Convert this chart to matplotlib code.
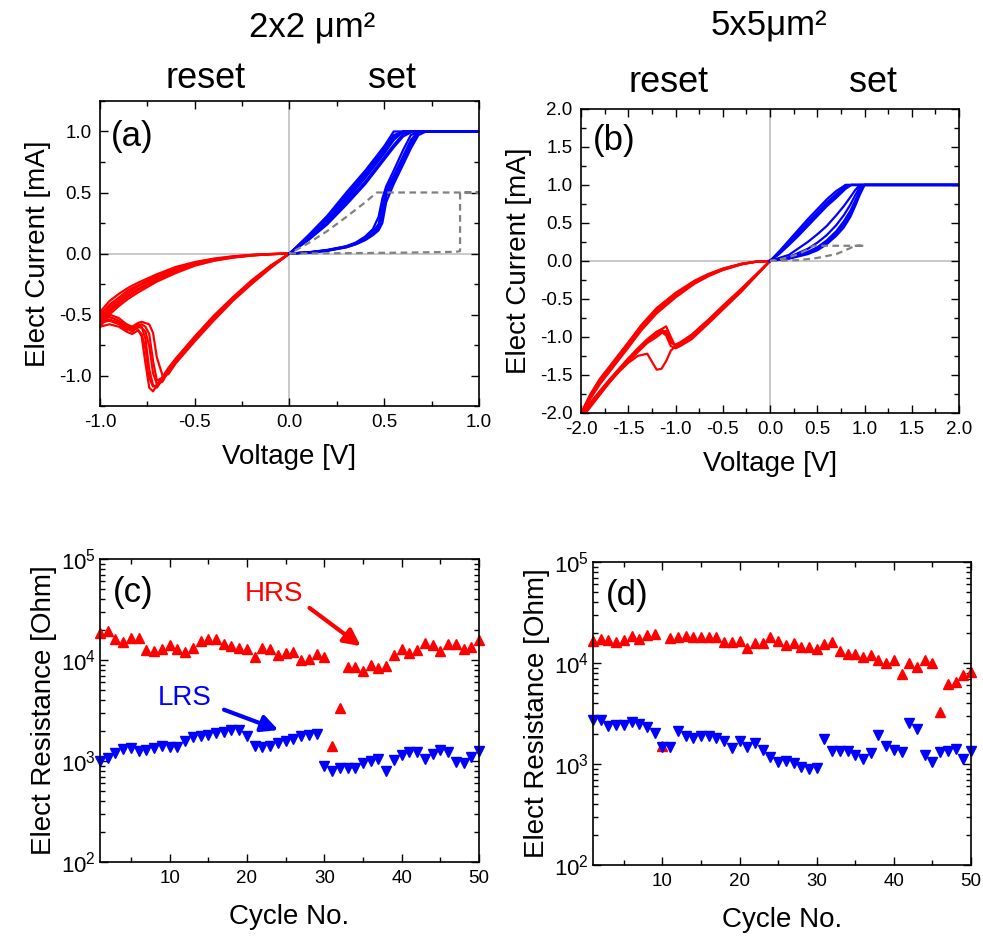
import matplotlib
matplotlib.use("Agg")
import matplotlib.pyplot as plt
from matplotlib.ticker import MultipleLocator, FormatStrFormatter, LogLocator, LogFormatterMathtext, NullFormatter

plt.rcParams['font.family'] = ['Liberation Sans', 'DejaVu Sans']
plt.rcParams['mathtext.fontset'] = 'custom'
plt.rcParams['mathtext.rm'] = 'Liberation Sans'
plt.rcParams['mathtext.it'] = 'Liberation Sans:italic'
plt.rcParams['axes.unicode_minus'] = False

# ---------------- (a) 2x2 um2 I-V ----------------
# reset sweep 0 -> -1 V (one list of currents per cycle)
a_reset_fwd_v = [0, -0.1, -0.2, -0.3, -0.4, -0.5, -0.6, -0.64, -0.67, -0.70, -0.72,
                 -0.74, -0.76, -0.78, -0.80, -0.83, -0.86, -0.90, -0.95, -1.0]
a_reset_fwd_i = [
    [0, -0.11, -0.24, -0.38, -0.53, -0.70, -0.88, -0.96, -1.03, -1.10, -1.08, -0.95, -0.70, -0.60, -0.58, -0.62, -0.58, -0.56, -0.55, -0.55],
    [0, -0.11, -0.23, -0.37, -0.52, -0.69, -0.87, -0.95, -1.02, -1.04, -0.88, -0.66, -0.60, -0.58, -0.59, -0.63, -0.60, -0.55, -0.52, -0.50],
    [0, -0.10, -0.22, -0.36, -0.51, -0.68, -0.86, -0.94, -1.01, -1.08, -1.13, -1.10, -0.90, -0.68, -0.62, -0.60, -0.63, -0.58, -0.55, -0.57],
    [0, -0.12, -0.25, -0.39, -0.55, -0.72, -0.90, -0.99, -1.00, -0.85, -0.65, -0.58, -0.57, -0.56, -0.57, -0.60, -0.58, -0.53, -0.50, -0.48],
    [0, -0.10, -0.23, -0.37, -0.52, -0.69, -0.87, -0.95, -1.02, -1.08, -1.09, -1.02, -0.78, -0.66, -0.63, -0.66, -0.64, -0.60, -0.58, -0.60],
    [0, -0.11, -0.24, -0.38, -0.53, -0.70, -0.88, -0.97, -1.05, -1.07, -0.98, -0.76, -0.64, -0.61, -0.60, -0.64, -0.61, -0.57, -0.54, -0.53],
]
# reset return -1 -> 0 V
a_reset_ret_v = [-1.0, -0.95, -0.9, -0.85, -0.8, -0.7, -0.6, -0.5, -0.4, -0.3, -0.2, -0.1, 0]
a_reset_ret_i = [
    [-0.55, -0.46, -0.40, -0.34, -0.29, -0.21, -0.14, -0.09, -0.055, -0.03, -0.015, -0.005, 0],
    [-0.50, -0.42, -0.36, -0.30, -0.26, -0.18, -0.12, -0.075, -0.045, -0.025, -0.012, -0.004, 0],
    [-0.57, -0.48, -0.41, -0.35, -0.30, -0.22, -0.15, -0.095, -0.058, -0.032, -0.016, -0.006, 0],
    [-0.48, -0.39, -0.33, -0.28, -0.24, -0.17, -0.11, -0.07, -0.042, -0.023, -0.011, -0.004, 0],
    [-0.60, -0.50, -0.43, -0.37, -0.32, -0.23, -0.16, -0.10, -0.06, -0.034, -0.017, -0.006, 0],
    [-0.53, -0.44, -0.38, -0.32, -0.27, -0.195, -0.13, -0.082, -0.05, -0.028, -0.013, -0.005, 0],
]
# set sweep 0 -> 1 V (compliance 1 mA)
a_set_fwd_v = [0, 0.1, 0.2, 0.3, 0.35, 0.4, 0.44, 0.47, 0.49, 0.51, 0.55, 0.6, 0.64, 0.68, 0.72, 1.0]
a_set_fwd_i = [
    [0, 0.008, 0.025, 0.055, 0.08, 0.12, 0.17, 0.22, 0.35, 0.50, 0.62, 0.78, 0.92, 1.0, 1.0, 1.0],
    [0, 0.010, 0.030, 0.060, 0.09, 0.14, 0.20, 0.30, 0.45, 0.55, 0.68, 0.85, 0.97, 1.0, 1.0, 1.0],
    [0, 0.007, 0.022, 0.050, 0.075, 0.11, 0.15, 0.19, 0.25, 0.42, 0.57, 0.73, 0.86, 0.97, 1.0, 1.0],
    [0, 0.009, 0.027, 0.058, 0.085, 0.13, 0.18, 0.24, 0.38, 0.52, 0.64, 0.80, 0.93, 1.0, 1.0, 1.0],
    [0, 0.008, 0.024, 0.053, 0.078, 0.115, 0.16, 0.21, 0.30, 0.47, 0.60, 0.76, 0.89, 0.99, 1.0, 1.0],
    [0, 0.009, 0.026, 0.056, 0.082, 0.125, 0.175, 0.23, 0.33, 0.49, 0.61, 0.77, 0.90, 1.0, 1.0, 1.0],
]
a_set_ret_v = [1.0, 0.65, 0.6, 0.55, 0.5, 0.45, 0.4, 0.3, 0.2, 0.1, 0]
a_set_ret_i = [
    [1.0, 1.0, 1.0, 0.93, 0.82, 0.72, 0.62, 0.44, 0.27, 0.125, 0],
    [1.0, 1.0, 1.0, 1.0, 0.88, 0.78, 0.68, 0.50, 0.31, 0.15, 0],
    [1.0, 1.0, 0.96, 0.87, 0.77, 0.67, 0.57, 0.40, 0.24, 0.11, 0],
    [1.0, 1.0, 1.0, 0.95, 0.84, 0.74, 0.64, 0.46, 0.28, 0.13, 0],
    [1.0, 1.0, 0.98, 0.89, 0.79, 0.69, 0.59, 0.42, 0.25, 0.115, 0],
    [1.0, 1.0, 1.0, 0.97, 0.86, 0.76, 0.66, 0.48, 0.30, 0.14, 0],
]
# forming sweep (grey dashed), compliance 0.5 mA
a_form_v = [0, 0.3, 0.6, 0.88, 0.9, 0.9, 1.0, 0.46, 0.4, 0.3, 0.2, 0.1, 0]
a_form_i = [0, 0.003, 0.007, 0.014, 0.02, 0.5, 0.5, 0.5, 0.42, 0.30, 0.185, 0.085, 0]

# ---------------- (b) 5x5 um2 I-V ----------------
b_reset_fwd_v = [0, -0.3, -0.5, -0.65, -0.83, -0.95, -1.0, -1.05, -1.1, -1.15, -1.2,
                 -1.3, -1.4, -1.5, -1.6, -1.7, -1.8, -1.9, -2.0]
b_reset_fwd_i = [
    [0, -0.38, -0.62, -0.80, -1.00, -1.10, -1.12, -1.05, -0.92, -0.95, -1.00, -1.08, -1.20, -1.33, -1.45, -1.60, -1.75, -1.90, -2.05],
    [0, -0.40, -0.64, -0.82, -1.03, -1.12, -1.15, -1.12, -0.98, -0.93, -0.97, -1.06, -1.18, -1.31, -1.44, -1.58, -1.73, -1.88, -2.03],
    [0, -0.37, -0.60, -0.78, -0.98, -1.08, -1.12, -1.18, -1.32, -1.42, -1.43, -1.22, -1.25, -1.34, -1.46, -1.60, -1.76, -1.92, -2.08],
    [0, -0.39, -0.63, -0.81, -1.01, -1.11, -1.13, -1.00, -0.86, -0.90, -0.96, -1.05, -1.17, -1.30, -1.43, -1.57, -1.72, -1.87, -2.02],
    [0, -0.36, -0.59, -0.77, -0.97, -1.07, -1.10, -1.08, -0.95, -0.90, -0.93, -1.03, -1.15, -1.28, -1.42, -1.56, -1.71, -1.86, -2.00],
]
b_reset_ret_v = [-2.0, -1.9, -1.8, -1.7, -1.6, -1.5, -1.36, -1.2, -1.0, -0.8, -0.65, -0.5, -0.3, -0.15, 0]
b_reset_ret_i = [
    [-2.02, -1.78, -1.58, -1.42, -1.26, -1.10, -0.87, -0.65, -0.45, -0.28, -0.18, -0.11, -0.04, -0.010, 0],
    [-2.04, -1.81, -1.62, -1.46, -1.30, -1.14, -0.91, -0.69, -0.48, -0.30, -0.20, -0.12, -0.045, -0.012, 0],
    [-2.00, -1.75, -1.55, -1.39, -1.23, -1.07, -0.84, -0.62, -0.42, -0.26, -0.17, -0.10, -0.035, -0.009, 0],
    [-2.03, -1.79, -1.60, -1.44, -1.28, -1.12, -0.89, -0.67, -0.46, -0.29, -0.19, -0.115, -0.042, -0.011, 0],
    [-2.01, -1.76, -1.56, -1.40, -1.24, -1.08, -0.85, -0.63, -0.43, -0.27, -0.175, -0.105, -0.038, -0.010, 0],
]
b_set_fwd_v = [0, 0.2, 0.4, 0.5, 0.6, 0.7, 0.78, 0.85, 0.9, 0.95, 1.0, 1.05, 2.0]
b_set_fwd_i = [
    [0, 0.03, 0.09, 0.14, 0.22, 0.33, 0.44, 0.58, 0.72, 0.87, 1.0, 1.0, 1.0],
    [0, 0.04, 0.12, 0.18, 0.27, 0.39, 0.52, 0.66, 0.79, 0.93, 1.0, 1.0, 1.0],
    [0, 0.08, 0.25, 0.35, 0.46, 0.60, 0.72, 0.84, 0.93, 1.0, 1.0, 1.0, 1.0],
    [0, 0.05, 0.16, 0.24, 0.34, 0.47, 0.60, 0.74, 0.86, 0.97, 1.0, 1.0, 1.0],
    [0, 0.035, 0.10, 0.16, 0.24, 0.36, 0.48, 0.62, 0.76, 0.90, 1.0, 1.0, 1.0],
]
b_set_ret_v = [2.0, 0.86, 0.8, 0.7, 0.6, 0.5, 0.4, 0.3, 0.2, 0.1, 0]
b_set_ret_i = [
    [1.0, 1.0, 1.0, 0.88, 0.77, 0.64, 0.51, 0.38, 0.24, 0.11, 0],
    [1.0, 1.0, 0.97, 0.85, 0.74, 0.61, 0.48, 0.35, 0.22, 0.10, 0],
    [1.0, 1.0, 1.0, 0.92, 0.81, 0.68, 0.55, 0.41, 0.27, 0.13, 0],
    [1.0, 1.0, 0.99, 0.87, 0.75, 0.62, 0.50, 0.37, 0.23, 0.105, 0],
    [1.0, 1.0, 0.95, 0.83, 0.72, 0.59, 0.46, 0.33, 0.21, 0.095, 0],
]
b_form_v = [0, 0.3, 0.5, 0.7, 0.85, 0.9, 1.0, 0.46, 0.39, 0.3, 0.2, 0.1, 0]
b_form_i = [0, 0.01, 0.04, 0.09, 0.17, 0.2, 0.2, 0.2, 0.145, 0.09, 0.05, 0.02, 0]

# ---------------- (c), (d) endurance ----------------
cycles = list(range(1, 51))
c_hrs = [18500, 19400, 16000, 15150, 16600, 16500, 12500, 12300, 12800, 14000,
         12800, 11900, 13200, 15500, 16300, 16000, 14500, 13600, 13000, 12800,
         10800, 13100, 12800, 11300, 11800, 11950, 9950, 10200, 11400, 10800,
         1420, 3360, 8430, 8550, 7770, 9000, 8300, 8680, 11250, 12800,
         11600, 12500, 14600, 14000, 12300, 14400, 14300, 12700, 13400, 15600]
c_lrs = [990, 1080, 1190, 1320, 1350, 1250, 1280, 1350, 1420, 1370,
         1370, 1590, 1710, 1780, 1810, 1910, 1940, 2020, 2040, 1770,
         1400, 1370, 1410, 1490, 1590, 1640, 1750, 1810, 1870, 895,
         800, 860, 850, 850, 950, 990, 1045, 790, 1015, 1140,
         1230, 1230, 1040, 1160, 1270, 1220, 980, 960, 1090, 1250]
d_hrs = [16400, 17300, 16900, 16150, 17000, 18500, 17300, 18900, 19400, 1500,
         17500, 18000, 18400, 18000, 18000, 18000, 18000, 16300, 16300, 16500,
         14000, 15800, 15600, 18200, 16500, 15100, 15600, 14300, 14300, 13900,
         15300, 16150, 13100, 12300, 12300, 11470, 12000, 10800, 9900, 10700,
         7840, 9900, 9100, 10700, 9900, 3250, 6200, 6430, 7600, 8080]
d_lrs = [2730, 2730, 2400, 2450, 2450, 2600, 2490, 2310, 2040, 1470,
         1460, 2100, 1890, 1810, 1890, 1890, 1810, 1700, 1430, 1680,
         1480, 1600, 1380, 1180, 1040, 1080, 1015, 940, 890, 910,
         1760, 1355, 1355, 1355, 1240, 1130, 1275, 1940, 1510, 1375,
         1300, 2530, 2200, 1230, 1055, 1300, 1355, 1400, 1130, 1355]

RED = '#ff0000'
BLUE = '#0000ff'
GREY = '#c0c0c0'

fig = plt.figure(figsize=(9.83, 9.36), dpi=100)
ax_a = fig.add_axes([0.1017, 0.5662, 0.3856, 0.3259])
ax_b = fig.add_axes([0.5911, 0.5588, 0.3845, 0.3248])
ax_c = fig.add_axes([0.1017, 0.0791, 0.3856, 0.3237])
ax_d = fig.add_axes([0.6033, 0.0759, 0.3845, 0.3237])


def style_axis(ax):
    ax.tick_params(which='both', direction='in', top=True, right=True,
                   labelsize=13.5, width=1.0, pad=6)
    ax.tick_params(which='major', length=6)
    ax.tick_params(which='minor', length=3.5)
    for sp in ax.spines.values():
        sp.set_linewidth(1.2)


def draw_iv(ax, fwd_v, fwd_i, ret_v, ret_i, color):
    for cyc in fwd_i:
        ax.plot(fwd_v, cyc, color=color, lw=1.6)
    for cyc in ret_i:
        ax.plot(ret_v, cyc, color=color, lw=1.6)


# panel (a)
ax_a.axhline(0, color=GREY, lw=1.2, zorder=0)
ax_a.axvline(0, color=GREY, lw=1.2, zorder=0)
draw_iv(ax_a, a_reset_fwd_v, a_reset_fwd_i, a_reset_ret_v, a_reset_ret_i, RED)
draw_iv(ax_a, a_set_fwd_v, a_set_fwd_i, a_set_ret_v, a_set_ret_i, BLUE)
ax_a.plot(a_form_v, a_form_i, color='grey', lw=1.6, ls=(0, (3, 2)))
ax_a.set_xlim(-1.0, 1.0)
ax_a.set_ylim(-1.25, 1.25)
ax_a.xaxis.set_major_locator(MultipleLocator(0.5))
ax_a.xaxis.set_minor_locator(MultipleLocator(0.25))
ax_a.yaxis.set_major_locator(MultipleLocator(0.5))
ax_a.yaxis.set_minor_locator(MultipleLocator(0.25))
ax_a.xaxis.set_major_formatter(FormatStrFormatter('%.1f'))
ax_a.yaxis.set_major_formatter(FormatStrFormatter('%.1f'))
ax_a.set_xlabel('Voltage [V]', fontsize=20, labelpad=9)
ax_a.set_ylabel('Elect Current [mA]', fontsize=20, labelpad=6)
ax_a.text(0.03, 0.885, '(a)', transform=ax_a.transAxes, fontsize=25, va='center')
style_axis(ax_a)

# panel (b)
ax_b.axhline(0, color=GREY, lw=1.2, zorder=0)
ax_b.axvline(0, color=GREY, lw=1.2, zorder=0)
draw_iv(ax_b, b_reset_fwd_v, b_reset_fwd_i, b_reset_ret_v, b_reset_ret_i, RED)
draw_iv(ax_b, b_set_fwd_v, b_set_fwd_i, b_set_ret_v, b_set_ret_i, BLUE)
ax_b.plot(b_form_v, b_form_i, color='grey', lw=1.6, ls=(0, (3, 2)))
ax_b.set_xlim(-2.0, 2.0)
ax_b.set_ylim(-2.0, 2.0)
ax_b.xaxis.set_major_locator(MultipleLocator(0.5))
ax_b.xaxis.set_minor_locator(MultipleLocator(0.25))
ax_b.yaxis.set_major_locator(MultipleLocator(0.5))
ax_b.yaxis.set_minor_locator(MultipleLocator(0.25))
ax_b.xaxis.set_major_formatter(FormatStrFormatter('%.1f'))
ax_b.yaxis.set_major_formatter(FormatStrFormatter('%.1f'))
ax_b.set_xlabel('Voltage [V]', fontsize=20, labelpad=9)
ax_b.set_ylabel('Elect Current [mA]', fontsize=20, labelpad=6)
ax_b.text(0.03, 0.895, '(b)', transform=ax_b.transAxes, fontsize=25, va='center')
style_axis(ax_b)


def endurance(ax, hrs, lrs, label):
    ax.semilogy(cycles, hrs, ls='none', marker='^', ms=6.5, color=RED, mec=RED, clip_on=False)
    ax.semilogy(cycles, lrs, ls='none', marker='v', ms=6.5, color=BLUE, mec=BLUE, clip_on=False)
    ax.set_xlim(1, 50)
    ax.set_ylim(1e2, 1e5)
    ax.xaxis.set_major_locator(MultipleLocator(10))
    ax.xaxis.set_minor_locator(MultipleLocator(5))
    ax.yaxis.set_major_locator(LogLocator(base=10))
    ax.yaxis.set_major_formatter(LogFormatterMathtext())
    ax.yaxis.set_minor_locator(LogLocator(base=10, subs=range(2, 10)))
    ax.yaxis.set_minor_formatter(NullFormatter())
    ax.set_xlabel('Cycle No.', fontsize=20, labelpad=12)
    ax.set_ylabel('Elect Resistance [Ohm]', fontsize=20, labelpad=3)
    ax.text(0.034, 0.888, label, transform=ax.transAxes, fontsize=25, va='center')
    style_axis(ax)
    ax.tick_params(axis='y', pad=3, labelsize=16)


endurance(ax_c, c_hrs, c_lrs, '(c)')
endurance(ax_d, d_hrs, d_lrs, '(d)')

ax_c.annotate('', xy=(35.0, 13200), xytext=(27.8, 34000),
              arrowprops=dict(arrowstyle='-|>', color=RED, lw=3, mutation_scale=25))
ax_c.text(23.5, 45000, 'HRS', color=RED, fontsize=20, ha='center', va='center')
ax_c.annotate('', xy=(24.4, 1980), xytext=(16.7, 3290),
              arrowprops=dict(arrowstyle='-|>', color=BLUE, lw=3, mutation_scale=25))
ax_c.text(11.9, 4170, 'LRS', color=BLUE, fontsize=20, ha='center', va='center')

# headings
fig.text(312 / 983, 1 - 37 / 936, '2x2 μm²', fontsize=25, ha='center', va='baseline')
fig.text(769 / 983, 1 - 35 / 936, '5x5μm²', fontsize=25, ha='center', va='baseline')
fig.text(206 / 983, 1 - 88 / 936, 'reset', fontsize=26, ha='center', va='baseline')
fig.text(392 / 983, 1 - 88 / 936, 'set', fontsize=26, ha='center', va='baseline')
fig.text(669 / 983, 1 - 92 / 936, 'reset', fontsize=26, ha='center', va='baseline')
fig.text(873 / 983, 1 - 92 / 936, 'set', fontsize=26, ha='center', va='baseline')

fig.savefig('out.png', dpi=100)
